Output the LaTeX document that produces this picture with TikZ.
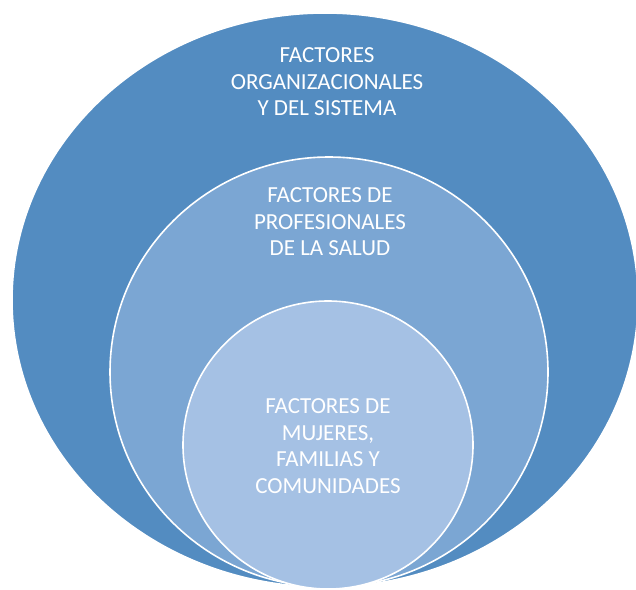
\documentclass[tikz,border=0pt]{standalone}
\usepackage{fontspec}
\setmainfont{Carlito}
\usetikzlibrary{shapes.geometric}
\definecolor{outerblue}{HTML}{538CC1}
\definecolor{midblue}{HTML}{7BA6D3}
\definecolor{innerblue}{HTML}{A5C1E4}
\tikzset{
  ring/.style={ellipse, draw=white, line width=1.6pt, inner sep=0pt},
  label/.style={text=white, align=center, font=\fontsize{23}{26.5}\selectfont, inner sep=0pt}
}
\begin{document}
\begin{tikzpicture}[x=1pt,y=1pt]
\useasboundingbox (0,0) rectangle (636,-589);
\node[ring, fill=outerblue, minimum width=626pt, minimum height=574pt] (outer) at (325,-300) {};
\node[ring, fill=midblue, minimum width=438pt, minimum height=430pt] (mid) at (329,-372) {};
\node[ring, fill=innerblue, minimum width=290pt, minimum height=288pt] (inner) at (328,-445) {};
\node[label] (t1) at (327,-82) {FACTORES\\ORGANIZACIONALES\\Y DEL SISTEMA};
\node[label] (t2) at (330,-222) {FACTORES DE\\PROFESIONALES\\DE LA SALUD};
\node[label] (t3) at (328,-446) {FACTORES DE\\MUJERES,\\FAMILIAS Y\\COMUNIDADES};
\end{tikzpicture}
\end{document}
